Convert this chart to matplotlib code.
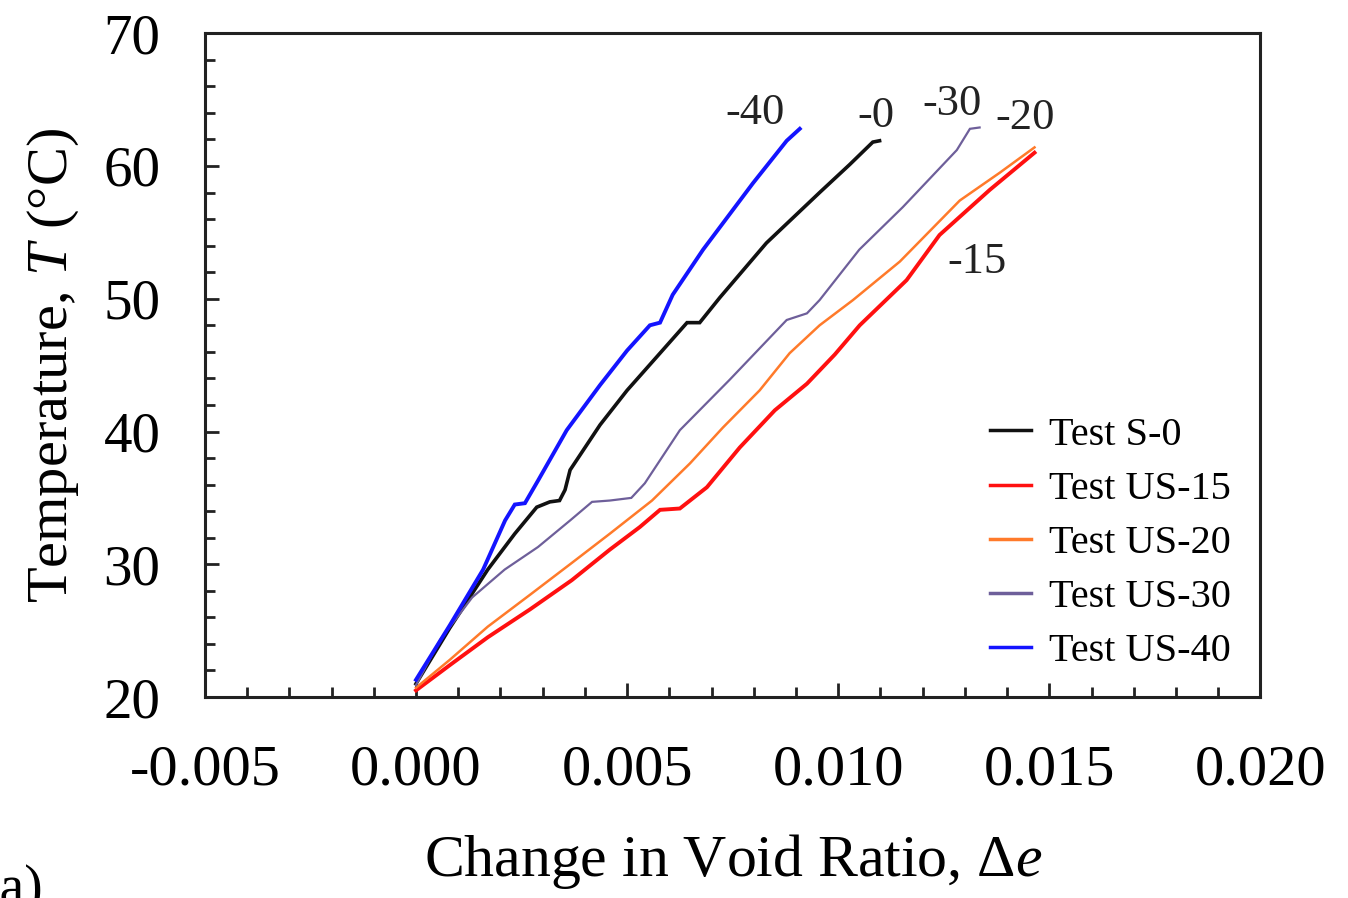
import matplotlib
matplotlib.use("Agg")
import matplotlib.pyplot as plt
from matplotlib.ticker import MultipleLocator, FormatStrFormatter

plt.rcParams['font.family'] = ['Liberation Serif', 'DejaVu Serif']
plt.rcParams['mathtext.fontset'] = 'custom'
plt.rcParams['mathtext.it'] = 'Liberation Serif:italic'
plt.rcParams['mathtext.rm'] = 'Liberation Serif'

# ---- data ----
s0_de = [0.0, 0.0008, 0.0017, 0.00234, 0.00286, 0.00317, 0.0034, 0.00353, 0.00365,
         0.00436, 0.0050, 0.00578, 0.00642, 0.00672, 0.0072, 0.0083, 0.00956, 0.01027,
         0.01082, 0.01098]
s0_T = [21.0, 25.2, 29.6, 32.3, 34.3, 34.7, 34.8, 35.6, 37.1,
        40.5, 43.1, 45.9, 48.2, 48.2, 50.1, 54.2, 58.0, 60.1,
        61.8, 61.9]

us15_de = [0.0, 0.0008, 0.0017, 0.0027, 0.00369, 0.00459, 0.0053, 0.00578, 0.00625,
           0.00689, 0.00767, 0.0085, 0.00926, 0.00992, 0.01051, 0.01162, 0.0124,
           0.01359, 0.01465]
us15_T = [20.5, 22.4, 24.5, 26.6, 28.8, 31.1, 32.8, 34.1, 34.2,
          35.8, 38.8, 41.6, 43.6, 45.8, 48.0, 51.4, 54.8,
          58.2, 61.0]

us20_de = [0.0, 0.0008, 0.0017, 0.0027, 0.00369, 0.00459, 0.00559, 0.00649, 0.00727,
           0.00814, 0.00885, 0.00956, 0.01035, 0.01146, 0.01288, 0.01383, 0.01465]
us20_T = [20.7, 22.8, 25.3, 27.7, 30.1, 32.3, 34.8, 37.6, 40.3,
          43.1, 45.9, 48.0, 49.9, 52.8, 57.4, 59.5, 61.4]

us30_de = [0.0, 0.00057, 0.00133, 0.0021, 0.00289, 0.00365, 0.00417, 0.00459, 0.0051,
           0.00542, 0.00625, 0.00743, 0.00878, 0.00926, 0.00956, 0.0105, 0.01153,
           0.01281, 0.01312, 0.01335]
us30_T = [20.9, 24.3, 27.5, 29.6, 31.3, 33.3, 34.7, 34.8, 35.0,
          36.1, 40.1, 43.9, 48.4, 48.9, 49.9, 53.7, 56.9,
          61.2, 62.8, 62.9]

us40_de = [0.0, 0.0008, 0.00159, 0.00211, 0.00234, 0.00258, 0.00289, 0.00357, 0.00436,
           0.0050, 0.00554, 0.00578, 0.00608, 0.0068, 0.00798, 0.00878, 0.00909]
us40_T = [21.3, 25.4, 29.6, 33.3, 34.5, 34.6, 36.3, 40.1, 43.5,
          46.1, 48.0, 48.2, 50.3, 53.7, 58.7, 61.9, 62.8]

series_labels = ['Test S-0', 'Test US-15', 'Test US-20', 'Test US-30', 'Test US-40']
end_labels = ['-0', '-15', '-20', '-30', '-40']
end_label_x = [0.01089, 0.01328, 0.01442, 0.01269, 0.00803]
end_label_T = [63.8, 52.8, 63.6, 64.7, 64.0]

x_ticks = [-0.005, 0.000, 0.005, 0.010, 0.015, 0.020]
y_ticks = [20, 30, 40, 50, 60, 70]

# ---- figure ----
fig = plt.figure(figsize=(13.48, 8.98), dpi=100)
ax = fig.add_axes([0.152, 0.2238, 0.783, 0.7392])

colors = ['#111111', '#ff1010', '#ff7a2a', '#6e5f9a', '#1414ff']
widths = [2.6, 2.8, 1.8, 1.6, 2.8]
data = [(s0_de, s0_T), (us15_de, us15_T), (us20_de, us20_T),
        (us30_de, us30_T), (us40_de, us40_T)]
for (xd, yd), c, w, lab in zip(data, colors, widths, series_labels):
    ax.plot(xd, yd, color=c, lw=w, label=lab, solid_joinstyle='miter')

for t, xv, yv in zip(end_labels, end_label_x, end_label_T):
    ax.text(xv, yv, t, fontsize=32, ha='center', va='center', color='#222222')

ax.set_xlim(-0.005, 0.020)
ax.set_ylim(20, 70)
ax.set_xticks(x_ticks)
ax.set_yticks(y_ticks)
ax.xaxis.set_major_formatter(FormatStrFormatter('%.3f'))
ax.xaxis.set_minor_locator(MultipleLocator(0.001))
ax.yaxis.set_minor_locator(MultipleLocator(2))

ax.tick_params(which='both', direction='in', top=False, right=False, width=2, color='#222222')
ax.tick_params(which='major', length=10)
ax.tick_params(which='minor', length=7)
ax.tick_params(axis='x', which='major', labelsize=42, pad=34)
ax.tick_params(axis='y', which='major', labelsize=41, pad=32)
for sp in ax.spines.values():
    sp.set_linewidth(2.2)
    sp.set_color('#222222')

ax.set_xlabel(r'Change in Void Ratio, $\Delta \mathit{e}$', fontsize=43, labelpad=26)
ax.set_ylabel(r'Temperature, $\mathit{T}$ (°C)', fontsize=42, labelpad=16)

leg = ax.legend(loc='lower right', frameon=False, fontsize=29, handlelength=1.0,
                handletextpad=0.45, labelspacing=0.42, borderaxespad=0.6,
                bbox_to_anchor=(1.01, -0.02))
for line in leg.get_lines():
    line.set_linewidth(2.5)

fig.text(-0.014, -0.02, '(a)', fontsize=40, ha='left', va='bottom')

fig.savefig('out.png', dpi=100)
